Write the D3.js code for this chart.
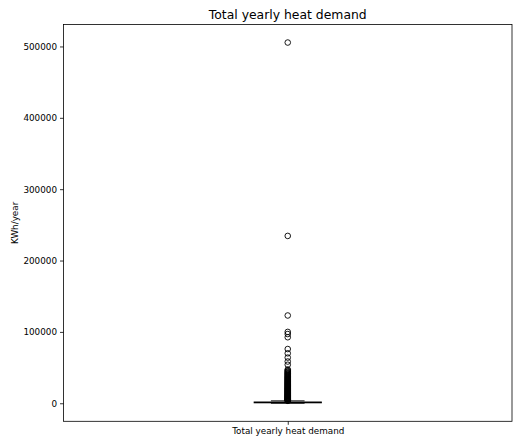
<!DOCTYPE html>
<html>
<head>
<meta charset="utf-8">
<script src="https://cdn.jsdelivr.net/npm/d3@7"></script>
<style>
  html, body { margin: 0; padding: 0; background: #fff; }
  svg text { font-family: "DejaVu Sans", sans-serif; fill: #000; }
</style>
</head>
<body>
<svg id="chart" width="513" height="441"></svg>
<script>
// Box-plot summary of yearly heat demand (kWh/year)
const category = "Total yearly heat demand";
const boxStats = ["whiskerLow", "q1", "median", "q3", "whiskerHigh"];
const boxValues = [0, 600, 1100, 1800, 3400];
// Points beyond the upper whisker
const outliers = [
  505500, 234500, 123000, 100000, 97000, 92500, 76000, 70000, 64000, 58500, 54000,
  47300, 46200, 45000, 44000, 43000, 42100, 41300, 40400, 39600, 38700, 37900,
  37000, 36300, 35500, 34800, 34000, 33300, 32600, 31900, 31100, 30400, 29800,
  29100, 28400, 27800, 27100, 26500, 25800, 25200, 24600, 23900, 23300, 22700,
  22000, 21400, 20900, 20300, 19700, 19100, 18600, 18000, 17400, 16900, 16300,
  15800, 15200, 14700, 14100, 13600, 13000, 12600, 12100, 11500, 11000, 10600,
  10100, 9600, 9100, 8700, 8200, 7800, 7300, 6900, 6400, 6000, 5600, 5200,
  4900, 4500, 4100, 3800, 3500
];
const yTicks = [0, 100000, 200000, 300000, 400000, 500000];

const stats = Object.fromEntries(boxStats.map((k, i) => [k, boxValues[i]]));

const svg = d3.select("#chart");
const plot = { left: 63.5, right: 512, top: 24.5, bottom: 421.3 };

// Data limits with a 5% margin on each side
const lo = d3.min([stats.whiskerLow, ...outliers]);
const hi = d3.max([stats.whiskerHigh, ...outliers]);
const pad = (hi - lo) * 0.05;

const x = d3.scaleLinear().domain([0.5, 1.5]).range([plot.left, plot.right]);
const y = d3.scaleLinear().domain([lo - pad, hi + pad]).range([plot.bottom, plot.top]);

const boxW = 0.15, capW = 0.075, pos = 1;
const lw = 0.9;
const labelSize = "8.8px";

// Frame
svg.append("rect")
  .attr("x", plot.left).attr("y", plot.top)
  .attr("width", plot.right - plot.left).attr("height", plot.bottom - plot.top)
  .attr("fill", "none").attr("stroke", "#000").attr("stroke-width", 0.8);

// Y axis
const yAxis = d3.axisLeft(y).tickValues(yTicks).tickFormat(d3.format("d"))
  .tickSize(3.5).tickPadding(3);
const gy = svg.append("g").attr("transform", `translate(${plot.left},0)`).call(yAxis);
gy.select(".domain").remove();
gy.selectAll("line").attr("stroke", "#000").attr("stroke-width", 0.8);
gy.selectAll("text").attr("font-size", labelSize).style("font-family", "DejaVu Sans, sans-serif");

// X axis
const xAxis = d3.axisBottom(x).tickValues([pos]).tickFormat(() => category)
  .tickSize(3.5).tickPadding(3);
const gx = svg.append("g").attr("transform", `translate(0,${plot.bottom})`).call(xAxis);
gx.select(".domain").remove();
gx.selectAll("line").attr("stroke", "#000").attr("stroke-width", 0.8);
gx.selectAll("text").attr("font-size", labelSize).style("font-family", "DejaVu Sans, sans-serif");

// Title and y label
svg.append("text").attr("x", (plot.left + plot.right) / 2).attr("y", 18.5)
  .attr("text-anchor", "middle").attr("font-size", "12.4px").text(category);
svg.append("text")
  .attr("transform", `translate(18,${(plot.top + plot.bottom) / 2}) rotate(-90)`)
  .attr("text-anchor", "middle").attr("font-size", labelSize).text("KWh/year");

const g = svg.append("g").attr("stroke", "#000").attr("stroke-width", lw).attr("fill", "none");

// Whiskers
g.append("line").attr("x1", x(pos)).attr("x2", x(pos))
  .attr("y1", y(stats.q1)).attr("y2", y(stats.whiskerLow));
g.append("line").attr("x1", x(pos)).attr("x2", x(pos))
  .attr("y1", y(stats.q3)).attr("y2", y(stats.whiskerHigh));
// Caps
[stats.whiskerLow, stats.whiskerHigh].forEach(v => {
  g.append("line").attr("x1", x(pos - capW / 2)).attr("x2", x(pos + capW / 2))
    .attr("y1", y(v)).attr("y2", y(v));
});
// Box
g.append("rect")
  .attr("x", x(pos - boxW / 2)).attr("width", x(pos + boxW / 2) - x(pos - boxW / 2))
  .attr("y", y(stats.q3)).attr("height", y(stats.q1) - y(stats.q3));
// Median
g.append("line").attr("x1", x(pos - boxW / 2)).attr("x2", x(pos + boxW / 2))
  .attr("y1", y(stats.median)).attr("y2", y(stats.median));

// Outliers
g.selectAll("circle.flier").data(outliers).join("circle")
  .attr("class", "flier")
  .attr("cx", x(pos)).attr("cy", d => y(d)).attr("r", 2.8);
</script>
</body>
</html>
